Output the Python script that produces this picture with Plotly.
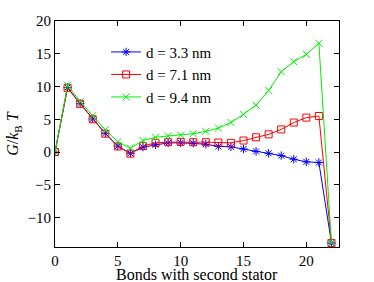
import plotly.graph_objects as go

bonds = list(range(23))
g_33 = [0, 9.85, 7.4, 5.05, 2.85, 0.9, -0.2, 0.75, 1.1, 1.4, 1.4, 1.35, 1.2, 0.85, 0.8, 0.45, 0.1, -0.2, -0.55, -1.1, -1.5, -1.6, -13.9]
g_71 = [0, 9.8, 7.35, 5.0, 2.8, 0.85, -0.25, 0.9, 1.4, 1.5, 1.55, 1.5, 1.5, 1.45, 1.4, 1.75, 2.25, 2.7, 3.45, 4.5, 5.25, 5.5, -13.9]
g_94 = [0, 10.2, 7.7, 5.55, 3.4, 1.55, 0.6, 1.75, 2.25, 2.45, 2.6, 2.8, 3.15, 3.65, 4.5, 5.75, 7.15, 9.4, 12.25, 13.8, 14.9, 16.6, -13.9]
names = ["d = 3.3 nm", "d = 7.1 nm", "d = 9.4 nm"]
x_ticks = [0, 5, 10, 15, 20]
y_ticks = [-10, -5, 0, 5, 10, 15, 20]
x_title = "Bonds with second stator"

family = "Liberation Serif, Times New Roman, serif"
font = dict(family=family, size=16, color="black")
tick_font = dict(family=family, size=15, color="black")
legend_font = dict(family=family, size=15, color="black")

fig = go.Figure()
styles = [
    ("#0000ff", "asterisk-open", g_33),
    ("#ff0000", "square-open", g_71),
    ("#00ee00", "x-thin-open", g_94),
]
for (col, sym, ys), nm in zip(styles, names):
    fig.add_trace(go.Scatter(
        x=bonds, y=ys, name=nm, mode="lines+markers",
        line=dict(color=col, width=1),
        marker=dict(symbol=sym, size=7, color=col, line=dict(color=col, width=1)),
    ))

axis_common = dict(
    showgrid=False, zeroline=False, showline=True, linecolor="black", linewidth=1,
    mirror="ticks", ticks="inside", ticklen=5, tickcolor="black", tickfont=tick_font,
    automargin=False,
)
fig.update_xaxes(range=[0, 22.6], tickvals=x_ticks, **axis_common)
fig.update_yaxes(range=[-14.5, 20], tickvals=y_ticks,
                 ticktext=[str(v) if v >= 0 else "\u2212" + str(-v) for v in y_ticks],
                 title=dict(text="<i>G</i>/<i>k</i><sub>B</sub> <i>T</i>", font=font, standoff=4),
                 **axis_common)
fig.add_annotation(text=x_title, xref="paper", yref="paper", x=0.5, y=-0.12,
                   xanchor="center", yanchor="middle", showarrow=False, font=font)
fig.update_layout(
    width=374, height=282,
    margin=dict(l=55, r=35, t=21, b=35),
    plot_bgcolor="white", paper_bgcolor="white",
    font=font,
    legend=dict(x=0.18, y=0.935, xanchor="left", yanchor="top",
                bgcolor="rgba(0,0,0,0)", font=legend_font, tracegroupgap=0,
                itemwidth=30),
)
fig.write_html("out.html", config={"displayModeBar": False},
               post_script="document.body.style.margin='0px';")
